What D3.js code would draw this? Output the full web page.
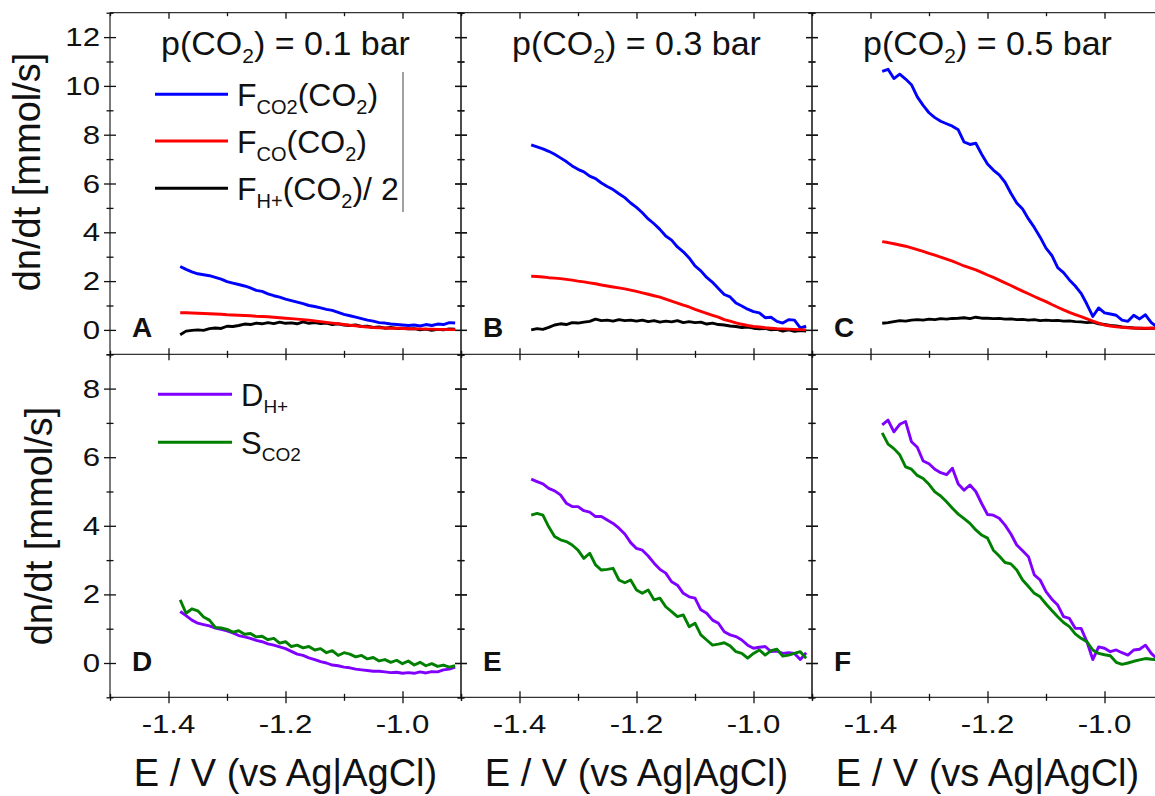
<!DOCTYPE html>
<html>
<head>
<meta charset="utf-8">
<script src="https://cdn.jsdelivr.net/npm/d3@7"></script>
<style>
  body { margin: 0; background: #fff; }
  svg { display: block; font-family: "Liberation Sans", Arial, sans-serif; }
</style>
</head>
<body>
<svg id="chart" width="1155" height="796"></svg>
<script>
// electrode potential (V vs Ag|AgCl), shared by every curve
var potential = [-1.38,-1.37,-1.36,-1.35,-1.34,-1.33,-1.32,-1.31,-1.30,-1.29,-1.28,-1.27,-1.26,-1.25,-1.24,-1.23,
  -1.22,-1.21,-1.20,-1.19,-1.18,-1.17,-1.16,-1.15,-1.14,-1.13,-1.12,-1.11,-1.10,-1.09,-1.08,-1.07,
  -1.06,-1.05,-1.04,-1.03,-1.02,-1.01,-1.00,-0.99,-0.98,-0.97,-0.96,-0.95,-0.94,-0.93,-0.92,-0.91];

var pressures = ["0.1", "0.3", "0.5"];
var topLetters = ["A", "B", "C"];
var bottomLetters = ["D", "E", "F"];

// F_CO2(CO2), mmol/s
var fCO2_01 = [2.60,2.48,2.38,2.30,2.26,2.22,2.15,2.08,1.98,1.92,1.86,1.80,1.72,1.62,1.58,1.48,1.40,1.34,1.26,1.20,1.14,1.08,1.00,0.96,
  0.90,0.84,0.80,0.72,0.64,0.58,0.52,0.46,0.40,0.36,0.30,0.28,0.24,0.22,0.20,0.18,0.20,0.16,0.22,0.18,0.24,0.22,0.30,0.28];
var fCO2_03 = [7.58,7.50,7.42,7.32,7.20,7.05,6.90,6.72,6.58,6.48,6.30,6.20,6.02,5.88,5.75,5.58,5.42,5.20,5.02,4.80,4.55,4.35,4.12,3.85,
  3.68,3.40,3.20,2.95,2.62,2.42,2.15,1.95,1.70,1.45,1.35,1.10,0.98,0.85,0.75,0.70,0.50,0.52,0.35,0.28,0.42,0.40,0.08,0.15];
var fCO2_05 = [10.60,10.68,10.30,10.48,10.28,10.05,9.55,9.20,8.90,8.70,8.55,8.45,8.35,8.20,7.70,7.60,7.65,7.20,6.80,6.55,6.35,6.05,5.60,5.20,
  4.95,4.55,4.20,3.80,3.35,3.05,2.55,2.35,2.05,1.80,1.50,1.05,0.55,0.90,0.70,0.65,0.60,0.40,0.35,0.60,0.45,0.62,0.30,0.12];

// F_CO(CO2)
var fCO_01 = [0.70,0.70,0.69,0.68,0.67,0.66,0.65,0.64,0.62,0.61,0.60,0.59,0.58,0.56,0.55,0.54,0.52,0.50,0.48,0.46,0.44,0.42,0.40,0.37,
  0.34,0.31,0.28,0.25,0.22,0.19,0.17,0.14,0.12,0.10,0.09,0.08,0.07,0.07,0.06,0.05,0.04,0.04,0.03,0.03,0.02,0.02,0.01,0.01];
var fCO_03 = [2.20,2.19,2.17,2.14,2.12,2.10,2.07,2.04,2.00,1.97,1.93,1.89,1.84,1.80,1.76,1.72,1.68,1.63,1.58,1.52,1.46,1.40,1.34,1.26,
  1.18,1.10,1.02,0.94,0.84,0.76,0.68,0.60,0.52,0.42,0.36,0.29,0.23,0.18,0.14,0.12,0.09,0.07,0.05,0.04,0.03,0.02,0.01,0.00];
var fCO_05 = [3.62,3.58,3.53,3.48,3.43,3.36,3.29,3.22,3.14,3.06,2.98,2.90,2.82,2.72,2.62,2.54,2.46,2.36,2.25,2.15,2.04,1.93,1.82,1.70,
  1.59,1.48,1.37,1.26,1.16,1.04,0.93,0.82,0.72,0.63,0.54,0.45,0.36,0.28,0.20,0.16,0.13,0.11,0.09,0.08,0.07,0.07,0.07,0.07];

// F_H+(CO2) / 2
var fH_01 = [-0.20,-0.05,-0.02,0.00,-0.02,0.05,0.08,0.06,0.15,0.14,0.18,0.24,0.22,0.28,0.25,0.30,0.26,0.32,0.27,0.29,0.25,0.33,0.27,0.30,
  0.26,0.28,0.22,0.25,0.20,0.18,0.20,0.14,0.15,0.10,0.12,0.07,0.10,0.06,0.07,0.04,0.05,0.00,0.03,-0.02,0.02,0.00,0.04,0.03];
var fH_03 = [0.00,0.05,0.02,0.10,0.20,0.25,0.22,0.30,0.28,0.32,0.35,0.44,0.38,0.40,0.36,0.42,0.38,0.40,0.36,0.40,0.34,0.38,0.32,0.36,
  0.33,0.38,0.30,0.34,0.30,0.32,0.24,0.28,0.22,0.20,0.16,0.14,0.10,0.12,0.07,0.04,0.06,0.00,0.02,-0.05,0.00,-0.06,-0.03,-0.05];
var fH_05 = [0.27,0.30,0.34,0.38,0.36,0.40,0.42,0.40,0.44,0.42,0.46,0.44,0.47,0.48,0.50,0.46,0.52,0.48,0.48,0.46,0.47,0.44,0.45,0.42,
  0.43,0.40,0.42,0.38,0.40,0.38,0.39,0.36,0.37,0.34,0.33,0.30,0.32,0.25,0.22,0.18,0.16,0.12,0.10,0.08,0.07,0.06,0.07,0.07];

// D_H+
var dH_01 = [1.50,1.38,1.25,1.16,1.12,1.08,1.02,0.98,0.94,0.88,0.80,0.76,0.72,0.66,0.62,0.56,0.52,0.47,0.42,0.34,0.26,0.22,0.15,0.10,
  0.04,0.00,-0.06,-0.08,-0.12,-0.14,-0.18,-0.20,-0.22,-0.24,-0.24,-0.26,-0.28,-0.27,-0.30,-0.28,-0.30,-0.26,-0.29,-0.25,-0.26,-0.20,-0.18,-0.12];
var dH_03 = [5.36,5.29,5.22,5.09,5.02,4.90,4.66,4.56,4.56,4.44,4.40,4.27,4.27,4.17,4.07,3.93,3.76,3.51,3.34,3.29,3.12,2.91,2.73,2.62,
  2.37,2.27,2.03,1.93,1.89,1.55,1.45,1.25,1.16,0.91,0.82,0.77,0.67,0.52,0.43,0.46,0.48,0.33,0.35,0.28,0.30,0.28,0.10,0.30];
var dH_05 = [6.94,7.08,6.74,6.96,7.04,6.45,6.29,5.89,5.81,5.65,5.55,5.49,5.68,5.22,5.04,5.19,5.00,4.65,4.33,4.31,4.22,4.02,3.76,3.44,
  3.27,3.10,2.57,2.42,2.08,1.86,1.69,1.35,1.30,1.01,1.01,0.62,0.10,0.47,0.43,0.33,0.38,0.30,0.23,0.38,0.40,0.52,0.28,0.12];

// S_CO2
var sCO2_01 = [1.84,1.45,1.58,1.52,1.34,1.25,1.04,1.02,0.98,0.90,0.94,0.84,0.86,0.76,0.78,0.68,0.72,0.58,0.62,0.48,0.52,0.44,0.48,0.38,
  0.42,0.30,0.36,0.22,0.30,0.26,0.18,0.22,0.12,0.16,0.06,0.10,0.02,0.08,-0.02,0.06,-0.06,0.02,-0.08,-0.02,-0.10,-0.06,-0.12,-0.08];
var sCO2_03 = [4.31,4.36,4.31,3.97,3.69,3.59,3.54,3.44,3.29,3.05,3.20,2.86,2.71,2.73,2.76,2.42,2.34,2.42,2.13,2.03,2.13,1.84,1.89,1.64,
  1.50,1.35,1.40,1.06,1.16,0.82,0.67,0.52,0.55,0.59,0.50,0.33,0.28,0.14,0.28,0.38,0.23,0.36,0.40,0.20,0.23,0.28,0.33,0.14];
var sCO2_05 = [6.71,6.38,6.25,6.07,5.72,5.65,5.47,5.38,5.21,4.99,4.87,4.70,4.51,4.34,4.21,4.07,3.88,3.73,3.64,3.29,3.12,2.93,2.89,2.71,
  2.42,2.23,2.03,1.93,1.72,1.53,1.35,1.18,1.06,0.85,0.72,0.62,0.38,0.28,0.24,0.21,0.02,-0.04,0.00,0.05,0.09,0.13,0.11,0.09];

var topSeries = [
  [{v: fH_01, c: "#000000"}, {v: fCO2_01, c: "#0000ff"}, {v: fCO_01, c: "#ff0000"}],
  [{v: fH_03, c: "#000000"}, {v: fCO2_03, c: "#0000ff"}, {v: fCO_03, c: "#ff0000"}],
  [{v: fH_05, c: "#000000"}, {v: fCO2_05, c: "#0000ff"}, {v: fCO_05, c: "#ff0000"}]
];
var bottomSeries = [
  [{v: dH_01, c: "#8000ff"}, {v: sCO2_01, c: "#008000"}],
  [{v: dH_03, c: "#8000ff"}, {v: sCO2_03, c: "#008000"}],
  [{v: dH_05, c: "#8000ff"}, {v: sCO2_05, c: "#008000"}]
];

var svg = d3.select("#chart");
var lefts = [110, 461, 812], pw = 351;
var topY = 12.7, midY = 354.3, botY = 697.3;

var x = d3.scaleLinear().domain([-1.5, -0.9]).range([0, pw]);
var yTop = d3.scaleLinear().domain([-1, 13]).range([midY, topY]);
var yBot = d3.scaleLinear().domain([-1, 9]).range([botY, midY]);

var xMajor = [-1.4, -1.2, -1.0], xMinor = [-1.5, -1.3, -1.1, -0.9];
var yTopMajor = [0, 2, 4, 6, 8, 10, 12], yTopMinor = [-1, 1, 3, 5, 7, 9, 11, 13];
var yBotMajor = [0, 2, 4, 6, 8], yBotMinor = [-1, 1, 3, 5, 7, 9];

// draw ticks through the axis line by stacking two opposite axes
function ticks(g, makers, scale, values, size, tx, ty) {
  makers.forEach(function(make) {
    g.append("g")
      .attr("transform", "translate(" + tx + "," + ty + ")")
      .call(make(scale).tickValues(values).tickSize(size).tickFormat(""))
      .call(function(s) {
        s.select(".domain").remove();
        s.selectAll("line").attr("stroke", "#111").attr("stroke-width", 1.3);
      });
  });
}

// text with subscripts: parts starting with "_" are lowered and smaller
function rich(g, px, py, parts, size, anchor, extra) {
  var t = g.append("text")
    .attr("transform", "translate(" + px + "," + py + ")" + (extra || ""))
    .attr("text-anchor", anchor || "start")
    .style("font-size", size + "px")
    .attr("fill", "#111");
  var low = false, shift = Math.round(size * 0.24);
  parts.forEach(function(p) {
    var sub = p.charAt(0) === "_";
    var s = t.append("tspan").text(sub ? p.slice(1) : p);
    if (sub) s.style("font-size", Math.round(size * 0.62) + "px");
    if (sub && !low) s.attr("dy", shift);
    if (!sub && low) s.attr("dy", -shift);
    low = sub;
  });
  return t;
}

lefts.forEach(function(left, i) {
  var g = svg.append("g").attr("transform", "translate(" + left + ",0)");

  // frame
  var frame = g.append("g").attr("stroke", "#333").attr("stroke-width", 1.3);
  [topY, midY, botY].forEach(function(yy) {
    frame.append("line").attr("x1", 0).attr("x2", pw).attr("y1", yy).attr("y2", yy);
  });
  [0, pw].forEach(function(xx) {
    frame.append("line").attr("x1", xx).attr("x2", xx).attr("y1", topY).attr("y2", botY);
  });

  // x ticks
  ticks(g, [d3.axisBottom], x, xMajor, 6, 0, topY);
  ticks(g, [d3.axisBottom], x, xMinor, 3.5, 0, topY);
  [midY, botY].forEach(function(yy) {
    ticks(g, [d3.axisBottom, d3.axisTop], x, xMajor, 6, 0, yy);
    ticks(g, [d3.axisBottom, d3.axisTop], x, xMinor, 3.5, 0, yy);
  });

  // y ticks on both vertical edges
  [0, pw].forEach(function(xx) {
    ticks(g, [d3.axisLeft, d3.axisRight], yTop, yTopMajor, 6, xx, 0);
    ticks(g, [d3.axisLeft, d3.axisRight], yTop, yTopMinor, 3.5, xx, 0);
    ticks(g, [d3.axisLeft, d3.axisRight], yBot, yBotMajor, 6, xx, 0);
    ticks(g, [d3.axisLeft, d3.axisRight], yBot, yBotMinor, 3.5, xx, 0);
  });

  // curves
  var lineTop = d3.line().x(function(d) { return x(d[0]); }).y(function(d) { return yTop(d[1]); });
  var lineBot = d3.line().x(function(d) { return x(d[0]); }).y(function(d) { return yBot(d[1]); });
  topSeries[i].forEach(function(s) {
    g.append("path").attr("d", lineTop(d3.zip(potential, s.v)))
      .attr("fill", "none").attr("stroke", s.c).attr("stroke-width", 2.9).attr("stroke-linejoin", "round");
  });
  bottomSeries[i].forEach(function(s) {
    g.append("path").attr("d", lineBot(d3.zip(potential, s.v)))
      .attr("fill", "none").attr("stroke", s.c).attr("stroke-width", 2.9).attr("stroke-linejoin", "round");
  });

  // x tick labels
  xMajor.forEach(function(v) {
    g.append("text")
      .attr("transform", "translate(" + x(v) + ",733) scale(1.2,1)")
      .attr("text-anchor", "middle").style("font-size", "26px").attr("fill", "#111")
      .text(d3.format(".1f")(v).replace("−", "-"));
  });

  // x title
  g.append("text").attr("x", pw / 2).attr("y", 786).attr("text-anchor", "middle")
    .style("font-size", "38px").attr("fill", "#111").text("E / V (vs Ag|AgCl)");

  // panel title
  rich(g, pw / 2, 55, ["p(CO", "_2", ") = " + pressures[i] + " bar"], 34, "middle");

  // panel letters
  g.append("text").attr("x", 22).attr("y", 337).style("font-size", "28px").style("font-weight", "bold")
    .attr("fill", "#111").text(topLetters[i]);
  g.append("text").attr("x", 22).attr("y", 671).style("font-size", "28px").style("font-weight", "bold")
    .attr("fill", "#111").text(bottomLetters[i]);
});

// y tick labels (left panel only)
var yLab = svg.append("g");
yTopMajor.forEach(function(v) {
  yLab.append("text").attr("transform", "translate(100," + (yTop(v) + 9) + ") scale(1.2,1)")
    .attr("text-anchor", "end").style("font-size", "26px").attr("fill", "#111").text(v);
});
yBotMajor.forEach(function(v) {
  yLab.append("text").attr("transform", "translate(100," + (yBot(v) + 9) + ") scale(1.2,1)")
    .attr("text-anchor", "end").style("font-size", "26px").attr("fill", "#111").text(v);
});

// y titles
svg.append("text").attr("transform", "translate(40,172) rotate(-90)").attr("text-anchor", "middle")
  .style("font-size", "38px").attr("fill", "#111").text("dn/dt [mmol/s]");
svg.append("text").attr("transform", "translate(52,526) rotate(-90)").attr("text-anchor", "middle")
  .style("font-size", "38px").attr("fill", "#111").text("dn/dt [mmol/s]");

// legend, top row
var legTop = [
  {c: "#0000ff", parts: ["F", "_CO2", "(CO", "_2", ")"], y: 94.3},
  {c: "#ff0000", parts: ["F", "_CO", "(CO", "_2", ")"], y: 141},
  {c: "#000000", parts: ["F", "_H+", "(CO", "_2", ")/ 2"], y: 188.3}
];
legTop.forEach(function(d) {
  svg.append("line").attr("x1", 155).attr("x2", 228).attr("y1", d.y).attr("y2", d.y)
    .attr("stroke", d.c).attr("stroke-width", 3);
  rich(svg, 237, d.y + 12, d.parts, 32);
});
svg.append("line").attr("x1", 403).attr("x2", 403).attr("y1", 72).attr("y2", 212)
  .attr("stroke", "#444").attr("stroke-width", 1);

// legend, bottom row
var legBot = [
  {c: "#8000ff", parts: ["D", "_H+"], y: 394.3},
  {c: "#008000", parts: ["S", "_CO2"], y: 442.3}
];
legBot.forEach(function(d) {
  svg.append("line").attr("x1", 158).attr("x2", 232).attr("y1", d.y).attr("y2", d.y)
    .attr("stroke", d.c).attr("stroke-width", 3);
  rich(svg, 241, d.y + 12, d.parts, 31);
});
</script>
</body>
</html>
